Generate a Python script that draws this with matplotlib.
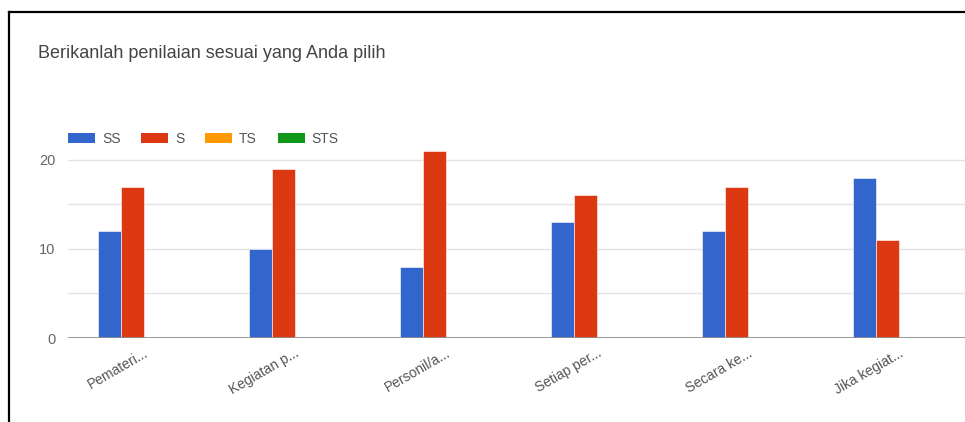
import matplotlib
matplotlib.use("Agg")
import matplotlib.pyplot as plt
from matplotlib.patches import Patch
from matplotlib.lines import Line2D
import numpy as np

plt.rcParams['font.family'] = ['Liberation Sans', 'DejaVu Sans']

title = "Berikanlah penilaian sesuai yang Anda pilih"
categories = ["Pemateri...", "Kegiatan p...", "Personil/a...", "Setiap per...", "Secara ke...", "Jika kegiat..."]
series_names = ["SS", "S", "TS", "STS"]
ss = [12, 10, 8, 13, 12, 18]
s = [17, 19, 21, 16, 17, 11]
ts = [0, 0, 0, 0, 0, 0]
sts = [0, 0, 0, 0, 0, 0]
yticks = [0, 10, 20]
colors = ["#3366CC", "#DC3912", "#FF9900", "#109618"]

W, H = 965, 422
fig = plt.figure(figsize=(W / 100, H / 100), dpi=100)
fig.patch.set_facecolor("white")

ax = fig.add_axes([68 / W, 1 - 338 / H, 1 - 68 / W, (338 - 142) / H])
x = np.arange(len(categories))
bw = 23 / 151
for i, (vals, c) in enumerate(zip([ss, s, ts, sts], colors)):
    ax.bar(x + (i - 1.5) * bw, vals, width=bw, color=c, edgecolor="white", linewidth=0.4, zorder=3)

ax.set_xlim(-0.5, (965 - 144) / 151)
ax.set_ylim(0, 22)
for gy in [5, 10, 15, 20]:
    ax.axhline(gy, color="#e3e3e3", linewidth=1.0, zorder=1)
ax.axhline(0, color="#8f8f8f", linewidth=2.0, zorder=4)
for sp in ax.spines.values():
    sp.set_visible(False)
ax.set_yticks(yticks)
ax.set_yticklabels([str(v) for v in yticks], fontsize=10.5, color="#666666")
ax.tick_params(axis="y", length=0, pad=9)
ax.set_xticks(x)
ax.set_xticklabels(categories, rotation=30, ha="right", rotation_mode="anchor",
                   fontsize=10, color="#555555")
ax.tick_params(axis="x", length=0, pad=6)

fig.text(38 / W, 1 - 53 / H, title, fontsize=13, color="#444444", va="center", ha="left")

handles = [Patch(facecolor=c, edgecolor="none") for c in colors]
fig.legend(handles, series_names, ncol=4, loc="center left",
           bbox_to_anchor=(68 / W, 1 - 139 / H), frameon=False, fontsize=10,
           handlelength=1.94, handleheight=0.65, handletextpad=0.5,
           columnspacing=1.5, borderpad=0, borderaxespad=0, labelcolor="#555555")

# frame lines (left and top) of the screenshot
fig.add_artist(Line2D([9 / W, 9 / W], [0, 1 - 12 / H], transform=fig.transFigure, color="black", linewidth=1.6))
fig.add_artist(Line2D([9 / W, 1], [1 - 12 / H, 1 - 12 / H], transform=fig.transFigure, color="black", linewidth=1.6))

fig.savefig("out.png", dpi=100, facecolor="white")
